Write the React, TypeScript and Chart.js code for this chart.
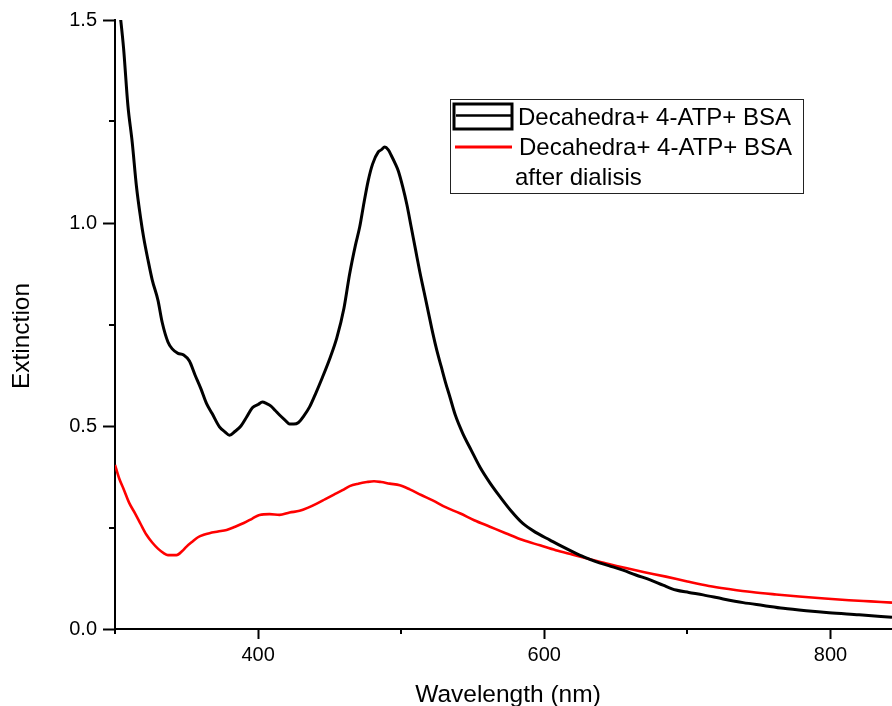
import React, { useEffect, useRef } from "react";
import { Chart, registerables } from "chart.js";

Chart.register(...registerables);

// ---- Data ----
const blackWavelength = [
  303, 304, 306, 309, 312, 315, 318, 320, 323, 326, 330, 333, 337, 340, 344, 348,
  352, 356, 360, 364, 368, 373, 377, 380, 384, 388, 392, 396, 400, 403, 406, 409,
  412, 415, 419, 422, 425, 428, 432, 436, 440, 445, 450, 455, 460, 464, 468, 471,
  474, 477, 480, 484, 486, 488.5, 491, 493, 496, 498, 501, 504, 507, 510, 513, 516,
  519, 522, 525, 528, 531, 534, 538, 543, 549, 555, 562, 569, 577, 585, 594, 604,
  612, 620, 628, 636, 645, 655, 664, 674, 683, 692, 701, 711, 725, 739, 753, 767,
  783, 799, 820, 843,
];
const blackExtinction = [
  1.53, 1.5, 1.43, 1.29, 1.2, 1.09, 1.01, 0.965, 0.91, 0.86, 0.81, 0.755, 0.707, 0.69, 0.679, 0.675,
  0.66, 0.625, 0.592, 0.555, 0.53, 0.498, 0.485, 0.477, 0.487, 0.5, 0.522, 0.545, 0.553, 0.559, 0.555, 0.549,
  0.538, 0.527, 0.514, 0.505, 0.505, 0.508, 0.525, 0.547, 0.578, 0.62, 0.665, 0.717, 0.79, 0.875, 0.945, 0.99,
  1.05, 1.105, 1.145, 1.175, 1.18, 1.187, 1.18, 1.167, 1.145, 1.128, 1.09, 1.045, 0.99, 0.935, 0.88, 0.83,
  0.78, 0.73, 0.685, 0.646, 0.607, 0.572, 0.525, 0.482, 0.44, 0.399, 0.36, 0.326, 0.29, 0.26, 0.238, 0.219,
  0.204, 0.19, 0.177, 0.166, 0.156, 0.145, 0.133, 0.121, 0.108, 0.096, 0.09, 0.084, 0.074, 0.065, 0.058, 0.051,
  0.045, 0.04, 0.035, 0.029,
];

const redWavelength = [
  300, 303, 306, 310, 314, 318, 322, 326, 330, 334, 337, 343, 347, 350, 354, 358,
  362, 366, 372, 378, 384, 390, 396, 401, 408, 415, 422, 429, 435, 441, 447, 453,
  459, 464, 470, 476, 481, 486, 492, 499, 506, 514, 522, 531, 541, 551, 562, 573,
  585, 597, 608, 620, 632, 645, 657, 670, 685, 700, 715, 730, 745, 762, 778, 796,
  813, 828, 843,
];
const redExtinction = [
  0.404, 0.37, 0.345, 0.31, 0.285, 0.258, 0.232, 0.213, 0.198, 0.187, 0.182, 0.182, 0.192, 0.203, 0.215, 0.226,
  0.232, 0.236, 0.24, 0.244, 0.252, 0.261, 0.272, 0.281, 0.283, 0.281, 0.287, 0.291, 0.299, 0.309, 0.32, 0.331,
  0.342, 0.352, 0.358, 0.362, 0.364, 0.362, 0.358, 0.354, 0.344, 0.33, 0.317, 0.3, 0.285, 0.268, 0.252, 0.236,
  0.219, 0.206, 0.194, 0.183, 0.172, 0.16, 0.15, 0.14, 0.129, 0.117, 0.106, 0.098, 0.091, 0.085, 0.08, 0.075,
  0.071, 0.068, 0.065,
];

const blackLabelLines = ["Decahedra+ 4-ATP+ BSA"];
const redLabelLines = ["Decahedra+ 4-ATP+ BSA", "after dialisis"];

const xMajorTicks = [400, 600, 800];
const yMajorTicks = [0, 0.5, 1.0, 1.5];
const X_MIN = 300;
const X_MAX = 843;
const X_STEP = 100;
const Y_MIN = 0;
const Y_MAX = 1.5;
const Y_STEP = 0.25;

const xTitle = "Wavelength (nm)";
const yTitle = "Extinction";

const FONT = '"Liberation Sans", Arial, sans-serif';

const isMajorX = (v: number) => xMajorTicks.some((m) => Math.abs(m - v) < 1e-6);
const isMajorY = (v: number) => yMajorTicks.some((m) => Math.abs(m - v) < 1e-6);

const decorPlugin = {
  id: "decor",
  afterDraw(chart: any) {
    const ctx = chart.ctx as CanvasRenderingContext2D;
    const xs = chart.scales.x;
    const ys = chart.scales.y;
    const area = chart.chartArea;
    ctx.save();
    // minor ticks
    ctx.strokeStyle = "#000";
    ctx.lineWidth = 2;
    xs.ticks.forEach((t: any) => {
      if (!isMajorX(t.value)) {
        const px = Math.round(xs.getPixelForValue(t.value));
        ctx.beginPath();
        ctx.moveTo(px, area.bottom);
        ctx.lineTo(px, area.bottom + 5);
        ctx.stroke();
      }
    });
    ys.ticks.forEach((t: any) => {
      if (!isMajorY(t.value)) {
        const py = Math.round(ys.getPixelForValue(t.value));
        ctx.beginPath();
        ctx.moveTo(area.left - 6, py);
        ctx.lineTo(area.left, py);
        ctx.stroke();
      }
    });

    // axis titles
    ctx.fillStyle = "#000";
    ctx.textAlign = "center";
    ctx.textBaseline = "alphabetic";
    ctx.font = `24.5px ${FONT}`;
    ctx.fillText(xTitle, 508, 702);
    ctx.save();
    ctx.translate(28.5, 336);
    ctx.rotate(-Math.PI / 2);
    ctx.font = `24.5px ${FONT}`;
    ctx.fillText(yTitle, 0, 0);
    ctx.restore();

    // legend box
    const ds = chart.data.datasets;
    ctx.fillStyle = "#fff";
    ctx.fillRect(450, 99, 353, 94);
    ctx.lineWidth = 1;
    ctx.strokeStyle = "#222";
    ctx.strokeRect(450.5, 99.5, 353, 94);

    // highlight frame around first sample
    ctx.lineWidth = 3;
    ctx.strokeStyle = "#000";
    ctx.strokeRect(454, 104, 58, 25);

    // sample lines
    ctx.lineWidth = 2.5;
    ctx.strokeStyle = ds[0].borderColor;
    ctx.beginPath();
    ctx.moveTo(456, 115.5);
    ctx.lineTo(511, 115.5);
    ctx.stroke();

    ctx.lineWidth = 3;
    ctx.strokeStyle = ds[1].borderColor;
    ctx.beginPath();
    ctx.moveTo(455, 147);
    ctx.lineTo(512, 147);
    ctx.stroke();

    ctx.fillStyle = "#000";
    ctx.font = `24px ${FONT}`;
    ctx.textBaseline = "alphabetic";
    ctx.textAlign = "left";
    ctx.fillText(blackLabelLines[0], 518, 125);
    ctx.fillText(redLabelLines[0], 519, 155);
    ctx.fillText(redLabelLines[1], 515, 185);
    ctx.restore();
  },
};

export default function App() {
  const canvasRef = useRef<HTMLCanvasElement | null>(null);

  useEffect(() => {
    if (!canvasRef.current) return;
    const chart = new Chart(canvasRef.current, {
      type: "line",
      data: {
        datasets: [
          {
            label: blackLabelLines.join(" "),
            data: blackWavelength.map((w, i) => ({ x: w, y: blackExtinction[i] })),
            borderColor: "#000000",
            borderWidth: 3,
            pointRadius: 0,
            cubicInterpolationMode: "monotone",
            borderJoinStyle: "round",
            fill: false,
          },
          {
            label: redLabelLines.join(" "),
            data: redWavelength.map((w, i) => ({ x: w, y: redExtinction[i] })),
            borderColor: "#ff0000",
            borderWidth: 2.6,
            pointRadius: 0,
            cubicInterpolationMode: "monotone",
            borderJoinStyle: "round",
            fill: false,
          },
        ],
      },
      options: {
        responsive: false,
        maintainAspectRatio: false,
        animation: false,
        devicePixelRatio: 1,
        layout: { padding: { top: 20, right: 0, bottom: 0, left: 0 } },
        plugins: {
          legend: { display: false },
          tooltip: { enabled: false },
          title: { display: false },
        },
        scales: {
          x: {
            type: "linear",
            min: X_MIN,
            max: X_MAX,
            afterFit: (scale: any) => {
              scale.height = 77;
            },
            grid: {
              display: true,
              drawOnChartArea: false,
              drawTicks: true,
              tickLength: 10,
              tickWidth: 2,
              tickColor: (c: any) => (c.tick && isMajorX(c.tick.value) ? "#000" : "rgba(0,0,0,0)"),
            },
            border: { display: true, color: "#000", width: 2 },
            ticks: {
              stepSize: X_STEP,
              includeBounds: false,
              autoSkip: false,
              maxRotation: 0,
              padding: 4,
              color: "#000",
              font: { family: FONT, size: 20 },
              callback: (v: any) => (isMajorX(Number(v)) ? String(v) : ""),
            },
            title: { display: false, text: xTitle },
          },
          y: {
            type: "linear",
            min: Y_MIN,
            max: Y_MAX,
            afterFit: (scale: any) => {
              scale.width = 115;
            },
            grid: {
              display: true,
              drawOnChartArea: false,
              drawTicks: true,
              tickLength: 12,
              tickWidth: 2,
              tickColor: (c: any) => (c.tick && isMajorY(c.tick.value) ? "#000" : "rgba(0,0,0,0)"),
            },
            border: { display: true, color: "#000", width: 2 },
            ticks: {
              stepSize: Y_STEP,
              autoSkip: false,
              padding: 6,
              color: "#000",
              font: { family: FONT, size: 20 },
              callback: (v: any) => (isMajorY(Number(v)) ? Number(v).toFixed(1) : ""),
            },
            title: { display: false, text: yTitle },
          },
        },
      },
      plugins: [decorPlugin],
    } as any);
    return () => chart.destroy();
  }, []);

  return (
    <div
      style={{
        position: "fixed",
        left: 0,
        top: 0,
        width: 892,
        height: 706,
        background: "#fff",
        overflow: "hidden",
      }}
    >
      <canvas ref={canvasRef} width={892} height={706} style={{ display: "block" }} />
    </div>
  );
}
